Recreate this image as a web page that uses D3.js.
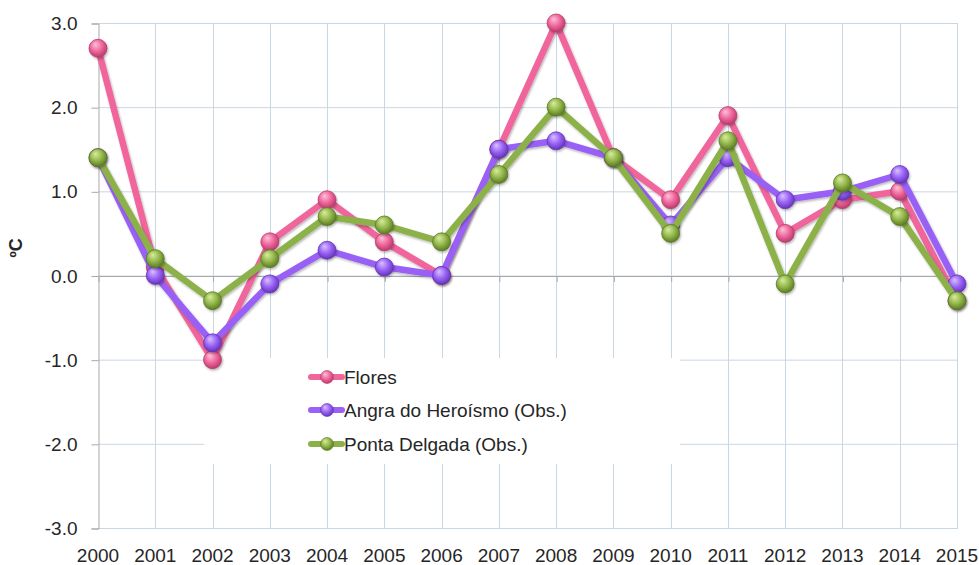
<!DOCTYPE html>
<html>
<head>
<meta charset="utf-8">
<script src="https://cdn.jsdelivr.net/npm/d3@7/dist/d3.min.js"></script>
<style>
  html, body { margin: 0; padding: 0; background: #fff; }
  svg { display: block; }
  text { font-family: "Liberation Sans", Arial, sans-serif; fill: #262626; }
</style>
</head>
<body>
<svg id="chart" width="979" height="565"></svg>
<script>
// ---- data ----
const years = [2000, 2001, 2002, 2003, 2004, 2005, 2006, 2007, 2008, 2009, 2010, 2011, 2012, 2013, 2014, 2015];
const flores = [2.7, 0.1, -1.0, 0.4, 0.9, 0.4, 0.0, 1.5, 3.0, 1.4, 0.9, 1.9, 0.5, 0.9, 1.0, -0.3];
const angra  = [1.4, 0.0, -0.8, -0.1, 0.3, 0.1, 0.0, 1.5, 1.6, 1.4, 0.6, 1.4, 0.9, 1.0, 1.2, -0.1];
const ponta  = [1.4, 0.2, -0.3, 0.2, 0.7, 0.6, 0.4, 1.2, 2.0, 1.4, 0.5, 1.6, -0.1, 1.1, 0.7, -0.3];
const seriesNames = ["Flores", "Angra do Heroísmo (Obs.)", "Ponta Delgada (Obs.)"];
const yTicks = [3, 2, 1, 0, -1, -2, -3];
const yLabel = "ºC";

// ---- styles ----
const colors = [
  { line: "#f0659b", light: "#fbc4d9", base: "#f0679c", dark: "#b83a6c" },
  { line: "#9961f6", light: "#d8c2ff", base: "#9a63f6", dark: "#6334b8" },
  { line: "#8db14a", light: "#d9ec9e", base: "#93b84c", dark: "#5b7a23" }
];
const seriesData = [flores, angra, ponta];

const svg = d3.select("#chart");
const x = d3.scaleLinear().domain([2000, 2015]).range([98, 957]);
const y = d3.scaleLinear().domain([-3, 3]).range([528, 23]);

// gradients
const defs = svg.append("defs");
colors.forEach((c, i) => {
  const g = defs.append("radialGradient").attr("id", "grad" + i)
    .attr("cx", "45%").attr("cy", "40%").attr("r", "60%")
    .attr("fx", "35%").attr("fy", "28%");
  g.append("stop").attr("offset", "0%").attr("stop-color", c.light);
  g.append("stop").attr("offset", "55%").attr("stop-color", c.base);
  g.append("stop").attr("offset", "100%").attr("stop-color", c.dark);
});
const f = defs.append("filter").attr("id", "shadow").attr("x", "-30%").attr("y", "-30%").attr("width", "160%").attr("height", "160%");
f.append("feDropShadow").attr("dx", 1).attr("dy", 1.5).attr("stdDeviation", 1.2).attr("flood-color", "#000").attr("flood-opacity", 0.3);

// gridlines
const grid = svg.append("g");
grid.selectAll("line.h").data(yTicks).join("line")
  .attr("x1", x(2000)).attr("x2", x(2015) + 1)
  .attr("y1", d => y(d) + 0.5).attr("y2", d => y(d) + 0.5)
  .attr("stroke", "#c9d7e2").attr("stroke-width", 1);
grid.selectAll("line.v").data(years.slice(1)).join("line")
  .attr("x1", d => Math.round(x(d)) + 0.5).attr("x2", d => Math.round(x(d)) + 0.5)
  .attr("y1", y(3)).attr("y2", y(-3))
  .attr("stroke", "#c9d7e2").attr("stroke-width", 1);

// legend background box
svg.append("rect").attr("x", 204).attr("y", 358).attr("width", 476).attr("height", 106).attr("fill", "#fff");

// y axis
const fmt = d => d3.format(".1f")(d).replace("\u2212", "-");
const yAxis = d3.axisLeft(y).tickValues(yTicks).tickFormat(fmt).tickSize(7).tickPadding(14);
const gy = svg.append("g").attr("transform", "translate(98.5,0.5)").call(yAxis);
gy.select(".domain").attr("stroke", "#a9a9a9");
gy.selectAll(".tick line").attr("stroke", "#a9a9a9");
gy.selectAll(".tick text").style("font-size", "19px").attr("fill", "#262626")
  .style("font-family", "Liberation Sans, Arial, sans-serif");

// x axis at 0 (ticks), labels at bottom
const xAxis = d3.axisBottom(x).tickValues(years).tickFormat("").tickSize(6).tickSizeOuter(0);
const gx = svg.append("g").attr("transform", `translate(0.5,${y(0) + 0.5})`).call(xAxis);
gx.select(".domain").attr("stroke", "#a9a9a9");
gx.selectAll(".tick line").attr("stroke", "#a9a9a9");

svg.append("g").selectAll("text").data(years).join("text")
  .attr("x", d => x(d)).attr("y", 562)
  .attr("text-anchor", "middle")
  .style("font-size", "19px")
  .text(d => d);

// y label
svg.append("text")
  .attr("transform", "translate(22,248) rotate(-90)")
  .attr("text-anchor", "middle")
  .style("font-size", "18px").style("font-weight", "bold")
  .text(yLabel);

// series
const line = d3.line().x((d, i) => x(years[i])).y(d => y(d));
seriesData.forEach((vals, i) => {
  const g = svg.append("g");
  g.append("path").datum(vals).attr("d", line)
    .attr("fill", "none").attr("stroke", colors[i].line).attr("stroke-width", 6.5)
    .attr("stroke-linejoin", "round").attr("filter", "url(#shadow)");
  g.selectAll("circle").data(vals).join("circle")
    .attr("cx", (d, j) => x(years[j])).attr("cy", d => y(d)).attr("r", 9)
    .attr("fill", `url(#grad${i})`).attr("stroke", colors[i].dark).attr("stroke-width", 0.8)
    .attr("filter", "url(#shadow)");
});

// legend
const legendY = [377, 410, 444];
const lg = svg.append("g");
seriesNames.forEach((name, i) => {
  const row = lg.append("g").attr("transform", `translate(0,${legendY[i]})`);
  row.append("line").attr("x1", 311).attr("x2", 342).attr("y1", 0).attr("y2", 0)
    .attr("stroke", colors[i].line).attr("stroke-width", 6).attr("stroke-linecap", "round");
  row.append("circle").attr("cx", 327).attr("cy", 0).attr("r", 6.5)
    .attr("fill", `url(#grad${i})`).attr("stroke", colors[i].dark).attr("stroke-width", 0.6);
  row.append("text").attr("x", 344).attr("y", 0).attr("dy", "0.35em")
    .style("font-size", "19px").text(name);
});
</script>
</body>
</html>
